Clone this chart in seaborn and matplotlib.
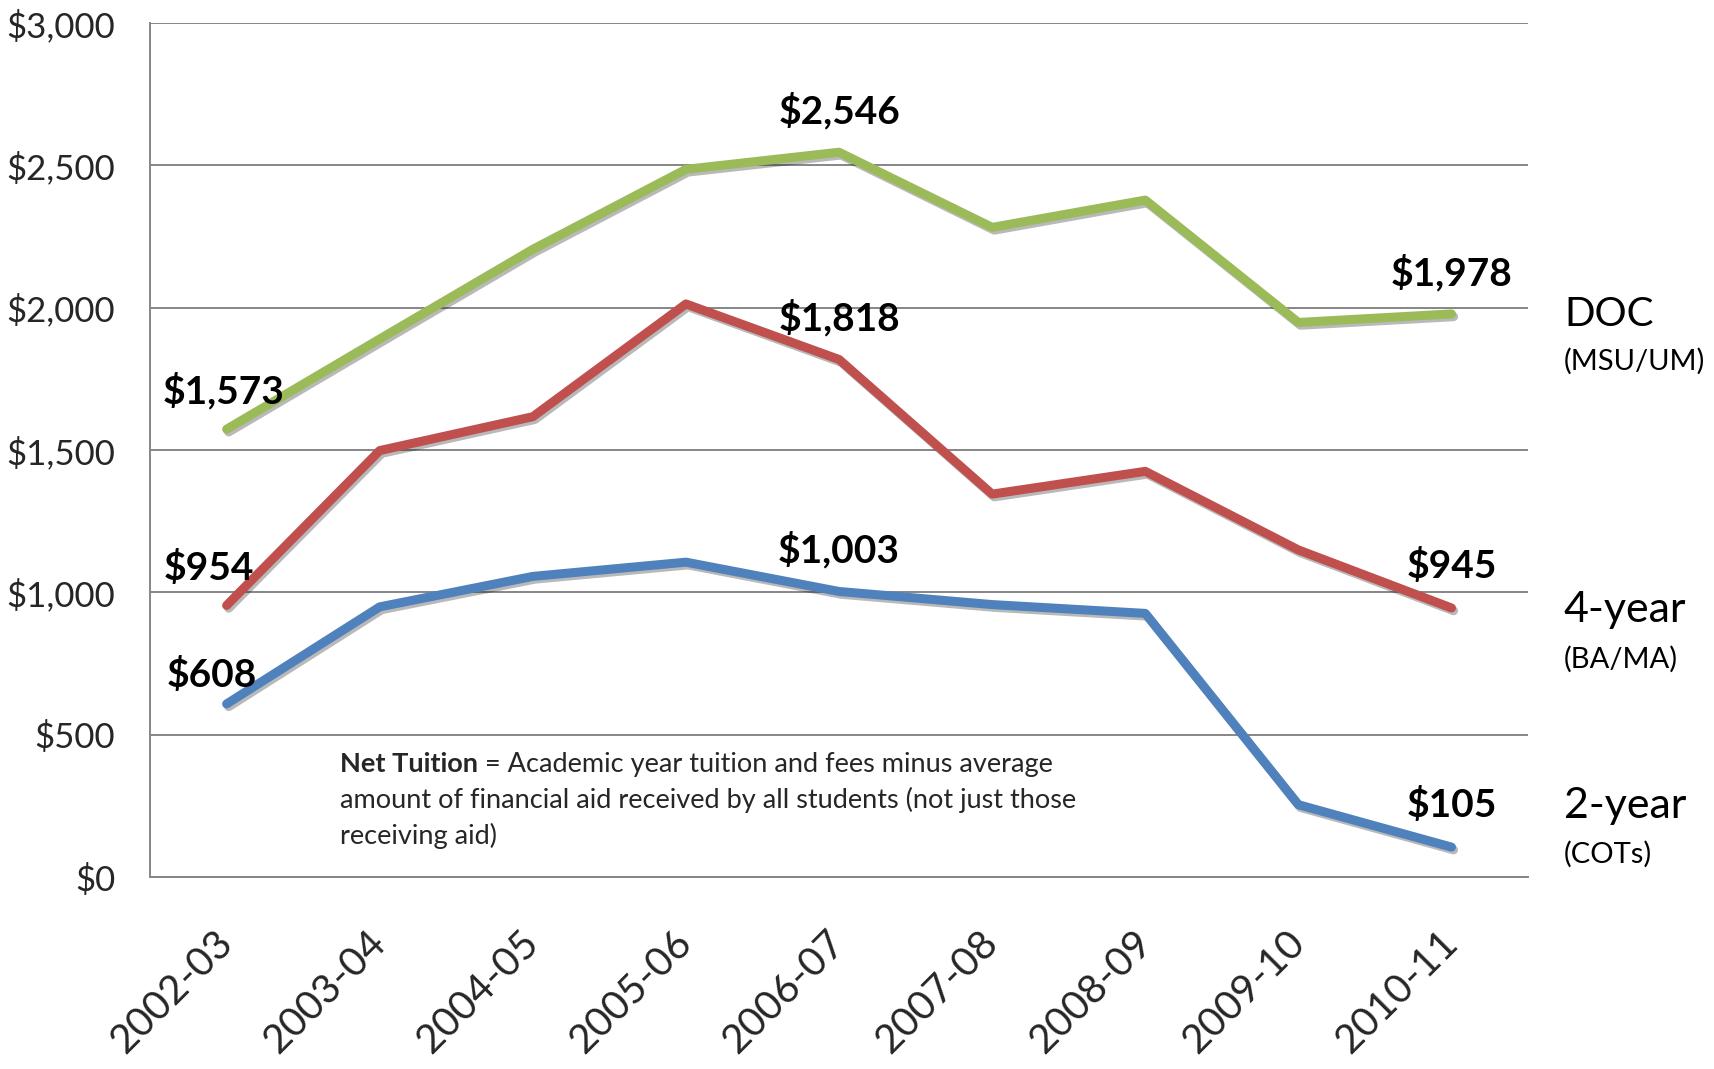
import pandas as pd
import matplotlib
matplotlib.use("Agg")
import matplotlib.pyplot as plt
import matplotlib.patheffects as pe
from matplotlib.ticker import FuncFormatter
import seaborn as sns

# Werte
years = ["2002-03", "2003-04", "2004-05", "2005-06", "2006-07",
         "2007-08", "2008-09", "2009-10", "2010-11"]
doc = [1573, 1890, 2205, 2486, 2546, 2282, 2378, 1948, 1978]
four_year = [954, 1498, 1617, 2013, 1818, 1345, 1425, 1149, 945]
two_year = [608, 949, 1056, 1106, 1003, 957, 926, 254, 105]

series_names = ["DOC", "4-year", "2-year"]
series_notes = ["(MSU/UM)", "(BA/MA)", "(COTs)"]
colors = ["#9BBB59", "#C0504D", "#4F81BD"]
labeled_idx = [0, 4, 8]

sns.set_theme(style="white")
plt.rcParams["font.family"] = ["Lato", "DejaVu Sans"]

df = pd.DataFrame({
    "Year": years * 3,
    "Net": doc + four_year + two_year,
    "Sector": [n for n in series_names for _ in years],
})

fig = plt.figure(figsize=(17.15, 10.69), dpi=100)
ax = fig.add_axes([0.0875, 0.1796, 0.8035, 0.7989])

ax = sns.lineplot(data=df, x="Year", y="Net", hue="Sector",
                  palette=dict(zip(series_names, colors)), linewidth=6.5,
                  legend=False, ax=ax, sort=False)
for line in ax.get_lines():
    line.set_solid_capstyle("round")
    line.set_solid_joinstyle("round")
    line.set_path_effects([pe.SimpleLineShadow(offset=(1.5, -2), alpha=0.3),
                           pe.Normal()])

ax.set_xlim(-0.5, len(years) - 0.5)
ax.set_ylim(0, 3000)
ax.set_yticks(range(0, 3001, 500))
ax.yaxis.set_major_formatter(FuncFormatter(lambda v, p: f"${v:,.0f}"))
ax.grid(axis="y", color="#868686", linewidth=1.4)
ax.set_axisbelow(True)
for s in ["top", "right"]:
    ax.spines[s].set_visible(False)
for s in ["left", "bottom"]:
    ax.spines[s].set_color("#868686")
    ax.spines[s].set_linewidth(1.4)
ax.set_xlabel("")
ax.set_ylabel("")
ax.tick_params(axis="y", length=0, pad=25, labelsize=25)
ax.tick_params(axis="x", length=0, pad=43, labelsize=29)
plt.setp(ax.get_xticklabels(), rotation=45, ha="right", va="center",
         rotation_mode="anchor")

# Datenbeschriftungen (Versatz je Spalte/Zeile)
offsets = {(0, 0): (-2, 28), (1, 0): (-13, 27), (2, 0): (-11, 21)}
for r, vals in enumerate([doc, four_year, two_year]):
    for i in labeled_idx:
        ax.annotate(f"${vals[i]:,}", (i, vals[i]),
                    xytext=offsets.get((r, i), (0, 30)),
                    textcoords="offset points", ha="center", va="center",
                    fontsize=28, fontweight="bold", color="black")

# Serienbeschriftungen rechts
name_y = [1977, 938, 248]
note_y = [1813, 765, 80]
name_size = [29, 31, 31]
for name, note, y1, y2, fs in zip(series_names, series_notes, name_y, note_y, name_size):
    ax.text(1.026, y1, name, transform=ax.get_yaxis_transform(),
            fontsize=fs, va="center", ha="left", color="black")
    ax.text(1.026, y2, note, transform=ax.get_yaxis_transform(),
            fontsize=21, va="center", ha="left", color="black")

# Hinweis zur Definition
fs_note = 19.5
t = ax.text(0.138, 0.132, "Net Tuition", transform=ax.transAxes,
            fontsize=fs_note, fontweight="bold", va="center", ha="left")
ax.annotate(" = Academic year tuition and fees minus average", xy=(1, 0.5),
            xycoords=t, fontsize=fs_note, va="center", ha="left")
ax.text(0.138, 0.090, "amount of financial aid received by all students (not just those",
        transform=ax.transAxes, fontsize=fs_note, va="center", ha="left")
ax.text(0.138, 0.048, "receiving aid)", transform=ax.transAxes,
        fontsize=fs_note, va="center", ha="left")

fig.savefig("out.png", dpi=100)
